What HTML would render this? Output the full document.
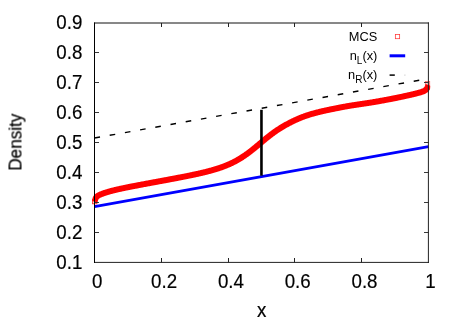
<!DOCTYPE html>
<html><head><meta charset="utf-8"><title>Density</title>
<style>
html,body{margin:0;padding:0;background:#fff;width:463px;height:324px;overflow:hidden}
.t{font-family:"Liberation Sans",sans-serif;font-size:19.5px;fill:#000;stroke:#000;stroke-width:0.2px}
.l{font-family:"Liberation Sans",sans-serif;font-size:12.8px;fill:#000}
</style></head><body>
<svg width="463" height="324" viewBox="0 0 463 324" style="display:block;position:absolute;left:0;top:0">
<rect width="463" height="324" fill="#fff"/>
<defs><clipPath id="c"><rect x="92.2" y="20" width="338" height="245"/></clipPath></defs>
<path d="M94.50 201.69 L94.92 200.15 L95.33 199.00 L95.75 198.13 L96.17 197.45 L96.59 196.92 L97.00 196.49 L97.42 196.13 L97.84 195.82 L98.26 195.56 L98.67 195.32 L99.09 195.10 L99.51 194.89 L99.93 194.70 L100.34 194.52 L100.76 194.35 L101.18 194.18 L101.60 194.01 L102.02 193.86 L102.43 193.70 L102.85 193.55 L103.27 193.40 L103.69 193.25 L104.10 193.11 L104.52 192.97 L104.94 192.83 L105.36 192.70 L105.77 192.56 L106.19 192.43 L106.61 192.30 L107.03 192.18 L107.44 192.05 L107.86 191.93 L108.28 191.81 L108.69 191.68 L109.11 191.57 L109.53 191.45 L109.95 191.33 L110.36 191.22 L110.78 191.11 L111.20 190.99 L111.62 190.88 L112.03 190.77 L112.45 190.67 L112.87 190.56 L113.29 190.45 L113.70 190.35 L114.12 190.25 L114.54 190.14 L114.96 190.04 L115.38 189.94 L115.79 189.84 L116.21 189.74 L116.63 189.64 L117.05 189.55 L117.46 189.45 L117.88 189.35 L118.30 189.26 L118.72 189.17 L119.13 189.07 L119.55 188.98 L119.97 188.89 L120.39 188.79 L120.80 188.70 L121.22 188.61 L121.64 188.52 L122.06 188.43 L122.47 188.34 L122.89 188.26 L123.31 188.17 L123.72 188.08 L124.14 187.99 L124.56 187.91 L124.98 187.82 L125.39 187.73 L125.81 187.65 L126.23 187.56 L126.65 187.48 L127.06 187.39 L127.48 187.31 L127.90 187.22 L128.32 187.14 L128.74 187.06 L129.15 186.97 L129.57 186.89 L129.99 186.81 L130.41 186.73 L130.82 186.64 L131.24 186.56 L131.66 186.48 L132.07 186.40 L132.49 186.32 L132.91 186.24 L133.33 186.16 L133.75 186.08 L134.16 186.00 L134.58 185.91 L135.00 185.83 L135.41 185.75 L135.83 185.68 L136.25 185.60 L136.67 185.52 L137.09 185.44 L137.50 185.36 L137.92 185.28 L138.34 185.20 L138.75 185.12 L139.17 185.04 L139.59 184.96 L140.01 184.88 L140.43 184.81 L140.84 184.73 L141.26 184.65 L141.68 184.57 L142.09 184.49 L142.51 184.42 L142.93 184.34 L143.35 184.26 L143.76 184.18 L144.18 184.10 L144.60 184.03 L145.02 183.95 L145.44 183.87 L145.85 183.79 L146.27 183.72 L146.69 183.64 L147.10 183.56 L147.52 183.48 L147.94 183.41 L148.36 183.33 L148.78 183.25 L149.19 183.18 L149.61 183.10 L150.03 183.02 L150.44 182.94 L150.86 182.87 L151.28 182.79 L151.70 182.71 L152.12 182.64 L152.53 182.56 L152.95 182.48 L153.37 182.40 L153.78 182.33 L154.20 182.25 L154.62 182.17 L155.04 182.10 L155.45 182.02 L155.87 181.94 L156.29 181.87 L156.71 181.79 L157.12 181.71 L157.54 181.63 L157.96 181.56 L158.38 181.48 L158.80 181.40 L159.21 181.33 L159.63 181.25 L160.05 181.17 L160.47 181.09 L160.88 181.02 L161.30 180.94 L161.72 180.86 L162.13 180.79 L162.55 180.71 L162.97 180.63 L163.39 180.55 L163.81 180.48 L164.22 180.40 L164.64 180.32 L165.06 180.24 L165.47 180.17 L165.89 180.09 L166.31 180.01 L166.73 179.93 L167.14 179.86 L167.56 179.78 L167.98 179.70 L168.40 179.62 L168.81 179.54 L169.23 179.47 L169.65 179.39 L170.07 179.31 L170.49 179.23 L170.90 179.15 L171.32 179.07 L171.74 179.00 L172.16 178.92 L172.57 178.84 L172.99 178.76 L173.41 178.68 L173.82 178.60 L174.24 178.52 L174.66 178.44 L175.08 178.37 L175.50 178.29 L175.91 178.21 L176.33 178.13 L176.75 178.05 L177.17 177.97 L177.58 177.89 L178.00 177.81 L178.42 177.73 L178.83 177.65 L179.25 177.57 L179.67 177.49 L180.09 177.40 L180.50 177.32 L180.92 177.24 L181.34 177.16 L181.76 177.08 L182.18 177.00 L182.59 176.92 L183.01 176.84 L183.43 176.75 L183.84 176.67 L184.26 176.59 L184.68 176.51 L185.10 176.42 L185.51 176.34 L185.93 176.26 L186.35 176.17 L186.77 176.09 L187.19 176.01 L187.60 175.92 L188.02 175.84 L188.44 175.75 L188.85 175.67 L189.27 175.58 L189.69 175.50 L190.11 175.41 L190.52 175.32 L190.94 175.24 L191.36 175.15 L191.78 175.06 L192.19 174.98 L192.61 174.89 L193.03 174.80 L193.45 174.71 L193.87 174.62 L194.28 174.54 L194.70 174.45 L195.12 174.36 L195.53 174.27 L195.95 174.18 L196.37 174.09 L196.79 173.99 L197.20 173.90 L197.62 173.81 L198.04 173.72 L198.46 173.62 L198.88 173.53 L199.29 173.44 L199.71 173.34 L200.13 173.25 L200.55 173.15 L200.96 173.05 L201.38 172.96 L201.80 172.86 L202.22 172.76 L202.63 172.66 L203.05 172.56 L203.47 172.46 L203.88 172.36 L204.30 172.26 L204.72 172.16 L205.14 172.06 L205.56 171.96 L205.97 171.85 L206.39 171.75 L206.81 171.64 L207.23 171.54 L207.64 171.43 L208.06 171.32 L208.48 171.21 L208.90 171.10 L209.31 170.99 L209.73 170.88 L210.15 170.77 L210.56 170.66 L210.98 170.54 L211.40 170.43 L211.82 170.31 L212.24 170.19 L212.65 170.07 L213.07 169.95 L213.49 169.83 L213.91 169.71 L214.32 169.59 L214.74 169.47 L215.16 169.34 L215.57 169.21 L215.99 169.09 L216.41 168.96 L216.83 168.83 L217.25 168.69 L217.66 168.56 L218.08 168.43 L218.50 168.29 L218.92 168.15 L219.33 168.01 L219.75 167.87 L220.17 167.73 L220.58 167.59 L221.00 167.44 L221.42 167.30 L221.84 167.15 L222.25 167.00 L222.67 166.85 L223.09 166.69 L223.51 166.54 L223.93 166.38 L224.34 166.22 L224.76 166.06 L225.18 165.89 L225.59 165.73 L226.01 165.56 L226.43 165.39 L226.85 165.22 L227.27 165.05 L227.68 164.87 L228.10 164.69 L228.52 164.51 L228.94 164.33 L229.35 164.15 L229.77 163.96 L230.19 163.77 L230.60 163.58 L231.02 163.38 L231.44 163.19 L231.86 162.99 L232.28 162.78 L232.69 162.58 L233.11 162.37 L233.53 162.16 L233.94 161.95 L234.36 161.74 L234.78 161.52 L235.20 161.30 L235.62 161.07 L236.03 160.85 L236.45 160.62 L236.87 160.39 L237.28 160.15 L237.70 159.92 L238.12 159.68 L238.54 159.43 L238.96 159.19 L239.37 158.94 L239.79 158.69 L240.21 158.43 L240.62 158.18 L241.04 157.92 L241.46 157.65 L241.88 157.39 L242.29 157.12 L242.71 156.85 L243.13 156.57 L243.55 156.29 L243.97 156.01 L244.38 155.73 L244.80 155.44 L245.22 155.15 L245.63 154.86 L246.05 154.57 L246.47 154.27 L246.89 153.97 L247.31 153.67 L247.72 153.36 L248.14 153.05 L248.56 152.74 L248.97 152.43 L249.39 152.12 L249.81 151.80 L250.23 151.48 L250.65 151.16 L251.06 150.83 L251.48 150.50 L251.90 150.18 L252.31 149.85 L252.73 149.51 L253.15 149.18 L253.57 148.84 L253.98 148.50 L254.40 148.16 L254.82 147.82 L255.24 147.48 L255.66 147.14 L256.07 146.79 L256.49 146.45 L256.91 146.10 L257.32 145.75 L257.74 145.40 L258.16 145.06 L258.58 144.71 L259.00 144.36 L259.41 144.01 L259.83 143.65 L260.25 143.30 L260.66 142.95 L261.08 142.60 L261.50 142.25 L261.92 141.90 L262.33 141.55 L262.75 141.20 L263.17 140.86 L263.59 140.51 L264.00 140.16 L264.42 139.82 L264.84 139.47 L265.26 139.13 L265.67 138.79 L266.09 138.45 L266.51 138.11 L266.93 137.77 L267.35 137.44 L267.76 137.10 L268.18 136.77 L268.60 136.44 L269.01 136.11 L269.43 135.79 L269.85 135.46 L270.27 135.14 L270.69 134.82 L271.10 134.51 L271.52 134.19 L271.94 133.88 L272.36 133.57 L272.77 133.26 L273.19 132.96 L273.61 132.66 L274.02 132.36 L274.44 132.06 L274.86 131.77 L275.28 131.47 L275.69 131.19 L276.11 130.90 L276.53 130.62 L276.95 130.33 L277.37 130.05 L277.78 129.78 L278.20 129.50 L278.62 129.23 L279.03 128.96 L279.45 128.70 L279.87 128.43 L280.29 128.17 L280.71 127.91 L281.12 127.65 L281.54 127.40 L281.96 127.15 L282.38 126.90 L282.79 126.65 L283.21 126.40 L283.63 126.16 L284.04 125.91 L284.46 125.67 L284.88 125.43 L285.30 125.20 L285.72 124.96 L286.13 124.73 L286.55 124.50 L286.97 124.27 L287.38 124.04 L287.80 123.82 L288.22 123.59 L288.64 123.37 L289.06 123.15 L289.47 122.93 L289.89 122.72 L290.31 122.50 L290.73 122.29 L291.14 122.08 L291.56 121.87 L291.98 121.66 L292.39 121.45 L292.81 121.25 L293.23 121.05 L293.65 120.85 L294.06 120.65 L294.48 120.45 L294.90 120.25 L295.32 120.06 L295.74 119.87 L296.15 119.68 L296.57 119.49 L296.99 119.31 L297.40 119.12 L297.82 118.94 L298.24 118.76 L298.66 118.58 L299.08 118.41 L299.49 118.23 L299.91 118.06 L300.33 117.89 L300.75 117.72 L301.16 117.55 L301.58 117.39 L302.00 117.23 L302.42 117.07 L302.83 116.91 L303.25 116.75 L303.67 116.60 L304.08 116.44 L304.50 116.29 L304.92 116.14 L305.34 116.00 L305.75 115.85 L306.17 115.71 L306.59 115.57 L307.01 115.43 L307.42 115.29 L307.84 115.15 L308.26 115.02 L308.68 114.88 L309.10 114.75 L309.51 114.62 L309.93 114.49 L310.35 114.37 L310.76 114.24 L311.18 114.12 L311.60 113.99 L312.02 113.87 L312.44 113.75 L312.85 113.64 L313.27 113.52 L313.69 113.40 L314.11 113.29 L314.52 113.17 L314.94 113.06 L315.36 112.95 L315.77 112.84 L316.19 112.73 L316.61 112.62 L317.03 112.51 L317.44 112.41 L317.86 112.30 L318.28 112.20 L318.70 112.09 L319.12 111.99 L319.53 111.89 L319.95 111.79 L320.37 111.69 L320.78 111.59 L321.20 111.49 L321.62 111.39 L322.04 111.29 L322.46 111.20 L322.87 111.10 L323.29 111.00 L323.71 110.91 L324.12 110.81 L324.54 110.72 L324.96 110.63 L325.38 110.53 L325.79 110.44 L326.21 110.35 L326.63 110.26 L327.05 110.17 L327.47 110.08 L327.88 109.99 L328.30 109.90 L328.72 109.81 L329.13 109.72 L329.55 109.63 L329.97 109.54 L330.39 109.45 L330.81 109.37 L331.22 109.28 L331.64 109.19 L332.06 109.11 L332.48 109.02 L332.89 108.94 L333.31 108.85 L333.73 108.77 L334.14 108.68 L334.56 108.60 L334.98 108.52 L335.40 108.43 L335.81 108.35 L336.23 108.27 L336.65 108.18 L337.07 108.10 L337.49 108.02 L337.90 107.94 L338.32 107.86 L338.74 107.78 L339.15 107.70 L339.57 107.62 L339.99 107.54 L340.41 107.46 L340.83 107.38 L341.24 107.30 L341.66 107.22 L342.08 107.14 L342.50 107.06 L342.91 106.99 L343.33 106.91 L343.75 106.83 L344.17 106.76 L344.58 106.68 L345.00 106.60 L345.42 106.53 L345.83 106.45 L346.25 106.38 L346.67 106.30 L347.09 106.23 L347.50 106.16 L347.92 106.08 L348.34 106.01 L348.76 105.94 L349.17 105.87 L349.59 105.80 L350.01 105.73 L350.43 105.66 L350.84 105.59 L351.26 105.52 L351.68 105.45 L352.10 105.38 L352.51 105.31 L352.93 105.24 L353.35 105.18 L353.77 105.11 L354.19 105.05 L354.60 104.98 L355.02 104.91 L355.44 104.85 L355.86 104.79 L356.27 104.72 L356.69 104.66 L357.11 104.60 L357.52 104.53 L357.94 104.47 L358.36 104.41 L358.78 104.35 L359.19 104.29 L359.61 104.23 L360.03 104.16 L360.45 104.10 L360.87 104.04 L361.28 103.98 L361.70 103.92 L362.12 103.86 L362.54 103.80 L362.95 103.74 L363.37 103.68 L363.79 103.62 L364.20 103.56 L364.62 103.50 L365.04 103.43 L365.46 103.37 L365.88 103.31 L366.29 103.25 L366.71 103.19 L367.13 103.12 L367.55 103.06 L367.96 103.00 L368.38 102.93 L368.80 102.87 L369.21 102.80 L369.63 102.74 L370.05 102.67 L370.47 102.61 L370.88 102.54 L371.30 102.47 L371.72 102.41 L372.14 102.34 L372.56 102.27 L372.97 102.20 L373.39 102.13 L373.81 102.06 L374.23 101.99 L374.64 101.92 L375.06 101.85 L375.48 101.78 L375.89 101.71 L376.31 101.64 L376.73 101.56 L377.15 101.49 L377.56 101.42 L377.98 101.34 L378.40 101.27 L378.82 101.20 L379.24 101.12 L379.65 101.05 L380.07 100.97 L380.49 100.90 L380.91 100.82 L381.32 100.75 L381.74 100.67 L382.16 100.59 L382.57 100.52 L382.99 100.44 L383.41 100.36 L383.83 100.29 L384.25 100.21 L384.66 100.13 L385.08 100.05 L385.50 99.97 L385.92 99.90 L386.33 99.82 L386.75 99.74 L387.17 99.66 L387.58 99.58 L388.00 99.50 L388.42 99.42 L388.84 99.34 L389.25 99.26 L389.67 99.18 L390.09 99.10 L390.51 99.02 L390.93 98.94 L391.34 98.86 L391.76 98.77 L392.18 98.69 L392.59 98.61 L393.01 98.53 L393.43 98.45 L393.85 98.36 L394.26 98.28 L394.68 98.20 L395.10 98.11 L395.52 98.03 L395.94 97.95 L396.35 97.86 L396.77 97.78 L397.19 97.69 L397.61 97.61 L398.02 97.53 L398.44 97.44 L398.86 97.35 L399.27 97.27 L399.69 97.18 L400.11 97.10 L400.53 97.01 L400.94 96.92 L401.36 96.83 L401.78 96.75 L402.20 96.66 L402.62 96.57 L403.03 96.48 L403.45 96.39 L403.87 96.30 L404.29 96.21 L404.70 96.12 L405.12 96.03 L405.54 95.94 L405.95 95.85 L406.37 95.76 L406.79 95.67 L407.21 95.57 L407.62 95.48 L408.04 95.39 L408.46 95.29 L408.88 95.20 L409.30 95.10 L409.71 95.01 L410.13 94.91 L410.55 94.82 L410.96 94.72 L411.38 94.62 L411.80 94.52 L412.22 94.42 L412.63 94.33 L413.05 94.23 L413.47 94.12 L413.89 94.02 L414.31 93.92 L414.72 93.82 L415.14 93.71 L415.56 93.61 L415.98 93.50 L416.39 93.40 L416.81 93.29 L417.23 93.18 L417.64 93.07 L418.06 92.96 L418.48 92.85 L418.90 92.74 L419.31 92.62 L419.73 92.50 L420.15 92.38 L420.57 92.26 L420.99 92.13 L421.40 92.00 L421.82 91.86 L422.24 91.72 L422.66 91.57 L423.07 91.41 L423.49 91.23 L423.91 91.04 L424.32 90.83 L424.74 90.59 L425.16 90.32 L425.58 90.01 L426.00 89.65 L426.41 89.21 L426.83 88.69 L427.25 88.05 L427.67 87.27 L428.08 86.31 L428.50 85.11" fill="none" stroke="#ff0000" stroke-width="6.0" stroke-linejoin="round" stroke-linecap="butt" clip-path="url(#c)"/>
<rect x="92.5" y="199.6" width="4.4" height="4.2" fill="#ff0000" fill-opacity="0.18" stroke="#ff0000" stroke-opacity="0.85" stroke-width="0.8"/>
<rect x="425.3" y="81.5" width="4.4" height="4.4" fill="#ff0000" fill-opacity="0.2" stroke="#ff0000" stroke-opacity="0.55" stroke-width="0.8"/>
<line x1="94.50" y1="206.70" x2="428.50" y2="146.70" stroke="#0000ff" stroke-width="2.7"/>
<line x1="94.50" y1="138.00" x2="428.50" y2="78.60" stroke="#000" stroke-width="1.4" stroke-dasharray="5.6 9.84"/>
<line x1="261.45" y1="109.80" x2="261.45" y2="175.70" stroke="#000" stroke-width="2.6"/>
<line x1="94" x2="429" y1="23" y2="23" stroke="#111" stroke-width="1"/>
<line x1="94" x2="429" y1="262.4" y2="262.4" stroke="#222" stroke-width="1"/>
<line x1="94.5" x2="94.5" y1="22.5" y2="263" stroke="#000" stroke-width="1"/>
<line x1="428.4" x2="428.4" y1="22.5" y2="263" stroke="#222" stroke-width="1"/>
<line x1="94.5" x2="99" y1="232.50" y2="232.50" stroke="#222" stroke-width="0.9"/>
<line x1="428.5" x2="424" y1="232.50" y2="232.50" stroke="#222" stroke-width="0.9"/>
<line x1="94.5" x2="99" y1="202.50" y2="202.50" stroke="#222" stroke-width="0.9"/>
<line x1="428.5" x2="424" y1="202.50" y2="202.50" stroke="#222" stroke-width="0.9"/>
<line x1="94.5" x2="99" y1="172.50" y2="172.50" stroke="#222" stroke-width="0.9"/>
<line x1="428.5" x2="424" y1="172.50" y2="172.50" stroke="#222" stroke-width="0.9"/>
<line x1="94.5" x2="99" y1="142.50" y2="142.50" stroke="#222" stroke-width="0.9"/>
<line x1="428.5" x2="424" y1="142.50" y2="142.50" stroke="#222" stroke-width="0.9"/>
<line x1="94.5" x2="99" y1="112.50" y2="112.50" stroke="#222" stroke-width="0.9"/>
<line x1="428.5" x2="424" y1="112.50" y2="112.50" stroke="#222" stroke-width="0.9"/>
<line x1="94.5" x2="99" y1="82.50" y2="82.50" stroke="#222" stroke-width="0.9"/>
<line x1="428.5" x2="424" y1="82.50" y2="82.50" stroke="#222" stroke-width="0.9"/>
<line x1="94.5" x2="99" y1="52.50" y2="52.50" stroke="#222" stroke-width="0.9"/>
<line x1="428.5" x2="424" y1="52.50" y2="52.50" stroke="#222" stroke-width="0.9"/>
<line y1="262.5" y2="258" x1="161.50" x2="161.50" stroke="#222" stroke-width="1"/>
<line y1="23" y2="27" x1="161.50" x2="161.50" stroke="#222" stroke-width="1"/>
<line y1="262.5" y2="258" x1="228.50" x2="228.50" stroke="#222" stroke-width="1"/>
<line y1="23" y2="27" x1="228.50" x2="228.50" stroke="#222" stroke-width="1"/>
<line y1="262.5" y2="258" x1="294.50" x2="294.50" stroke="#222" stroke-width="1"/>
<line y1="23" y2="27" x1="294.50" x2="294.50" stroke="#222" stroke-width="1"/>
<line y1="262.5" y2="258" x1="361.50" x2="361.50" stroke="#222" stroke-width="1"/>
<line y1="23" y2="27" x1="361.50" x2="361.50" stroke="#222" stroke-width="1"/>
<rect x="395.35" y="34.4" width="4.3" height="4.3" fill="none" stroke="#ff3535" stroke-width="0.75"/>
<line x1="389.6" x2="405.2" y1="55.8" y2="55.8" stroke="#0000ff" stroke-width="3"/>
<line x1="389.6" x2="394.8" y1="75.1" y2="75.1" stroke="#000" stroke-width="1.5"/>
<rect x="404.4" y="74.6" width="1" height="1" fill="#bbb"/>
<g style="opacity:.999"><text transform="translate(82.4,269.30) scale(0.96,1)" text-anchor="end" class="t">0.1</text><text transform="translate(82.4,239.30) scale(0.96,1)" text-anchor="end" class="t">0.2</text><text transform="translate(82.4,209.30) scale(0.96,1)" text-anchor="end" class="t">0.3</text><text transform="translate(82.4,179.30) scale(0.96,1)" text-anchor="end" class="t">0.4</text><text transform="translate(82.4,149.30) scale(0.96,1)" text-anchor="end" class="t">0.5</text><text transform="translate(82.4,119.30) scale(0.96,1)" text-anchor="end" class="t">0.6</text><text transform="translate(82.4,89.30) scale(0.96,1)" text-anchor="end" class="t">0.7</text><text transform="translate(82.4,59.30) scale(0.96,1)" text-anchor="end" class="t">0.8</text><text transform="translate(82.4,29.30) scale(0.96,1)" text-anchor="end" class="t">0.9</text><text transform="translate(97.30,287.7) scale(0.96,1)" text-anchor="middle" class="t">0</text><text transform="translate(164.10,287.7) scale(0.96,1)" text-anchor="middle" class="t">0.2</text><text transform="translate(230.90,287.7) scale(0.96,1)" text-anchor="middle" class="t">0.4</text><text transform="translate(297.70,287.7) scale(0.96,1)" text-anchor="middle" class="t">0.6</text><text transform="translate(364.50,287.7) scale(0.96,1)" text-anchor="middle" class="t">0.8</text><text transform="translate(430.50,287.7) scale(0.96,1)" text-anchor="middle" class="t">1</text><text transform="translate(261.6,316.7) scale(0.96,1)" text-anchor="middle" class="t">x</text><text transform="translate(21.5,142.2) rotate(-90) scale(0.915,1)" text-anchor="middle" class="t" style="font-size:18.7px">Density</text><text x="377.3" y="41" text-anchor="end" class="l">MCS</text><text x="377.3" y="60" text-anchor="end" class="l">n<tspan dy="3.8" style="font-size:10px">L</tspan><tspan dy="-3.8">(x)</tspan></text><text x="377.3" y="79.3" text-anchor="end" class="l">n<tspan dy="3.8" style="font-size:10px">R</tspan><tspan dy="-3.8">(x)</tspan></text></g>
</svg>
</body></html>
